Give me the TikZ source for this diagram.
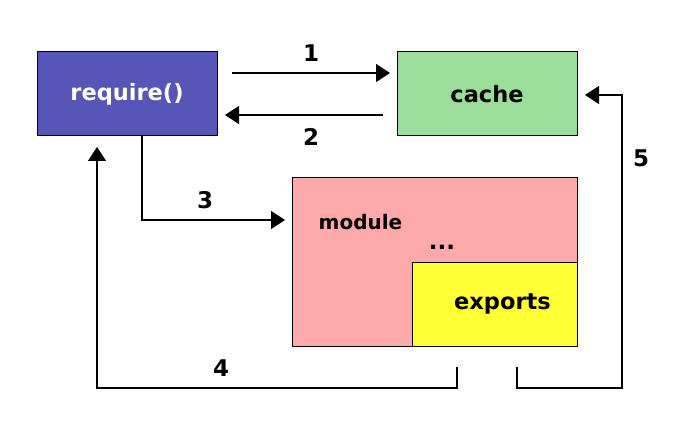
\documentclass[tikz,border=0pt]{standalone}
\usepackage{fontspec}
\setmainfont{DejaVu Sans}
\usetikzlibrary{arrows.meta}
\definecolor{reqblue}{HTML}{5656B9}
\definecolor{cachegreen}{HTML}{9ADE9A}
\definecolor{modpink}{HTML}{FFAAAA}
\definecolor{expyellow}{HTML}{FFFF33}
\begin{document}
\begin{tikzpicture}[x=1pt,y=-1pt,
  box/.style={draw=black, line width=1pt, rectangle, inner sep=0pt, font=\fontsize{22.5}{26}\selectfont\bfseries},
  conn/.style={draw=black, line width=1.2pt, -{Triangle[length=14pt,width=18pt]}},
  lbl/.style={font=\fontsize{23}{26}\selectfont\bfseries, inner sep=0pt}]
\useasboundingbox (0,0) rectangle (675,441);
% boxes
\node[box, fill=reqblue, text=white, minimum width=180pt, minimum height=84pt] (req) at (127,94) {require()};
\node[box, fill=cachegreen, minimum width=180pt, minimum height=84pt] (cache) at (487,94) {cache};
\node[box, fill=modpink, minimum width=285pt, minimum height=168pt] (mod) at (434.5,262) {};
\node[box, fill=expyellow, minimum width=165pt, minimum height=84pt] (exp) at (494.5,304) {\hspace*{16pt}\raisebox{-2pt}{exports}};
\node[lbl, font=\fontsize{20}{24}\selectfont\bfseries] (modtxt) at (360.5,222) {module};
\node[lbl] (dots) at (442,247) {...};
% coordinates
\coordinate (a1s) at (232,73);
\coordinate (a1e) at (390,73);
\coordinate (a2s) at (383,115);
\coordinate (a2e) at (225,115);
\coordinate (a3s) at (142,136);
\coordinate (a3c) at (142,220);
\coordinate (a3e) at (285,220);
\coordinate (a4s) at (457,367);
\coordinate (a4c1) at (457,388);
\coordinate (a4c2) at (97,388);
\coordinate (a4e) at (97,147);
\coordinate (a5s) at (517,367);
\coordinate (a5c1) at (517,388);
\coordinate (a5c2) at (622,388);
\coordinate (a5c3) at (622,95);
\coordinate (a5e) at (585,95);
% connectors
\draw[conn] (a1s) -- (a1e);
\draw[conn] (a2s) -- (a2e);
\draw[conn] (a3s) -- (a3c) -- (a3e);
\draw[conn] (a4s) -- (a4c1) -- (a4c2) -- (a4e);
\draw[conn] (a5s) -- (a5c1) -- (a5c2) -- (a5c3) -- (a5e);
% labels
\node[lbl] (l1) at (311,53) {1};
\node[lbl] (l2) at (311,137) {2};
\node[lbl] (l3) at (205,200) {3};
\node[lbl] (l4) at (221,368) {4};
\node[lbl] (l5) at (641,158) {5};
\end{tikzpicture}
\end{document}
